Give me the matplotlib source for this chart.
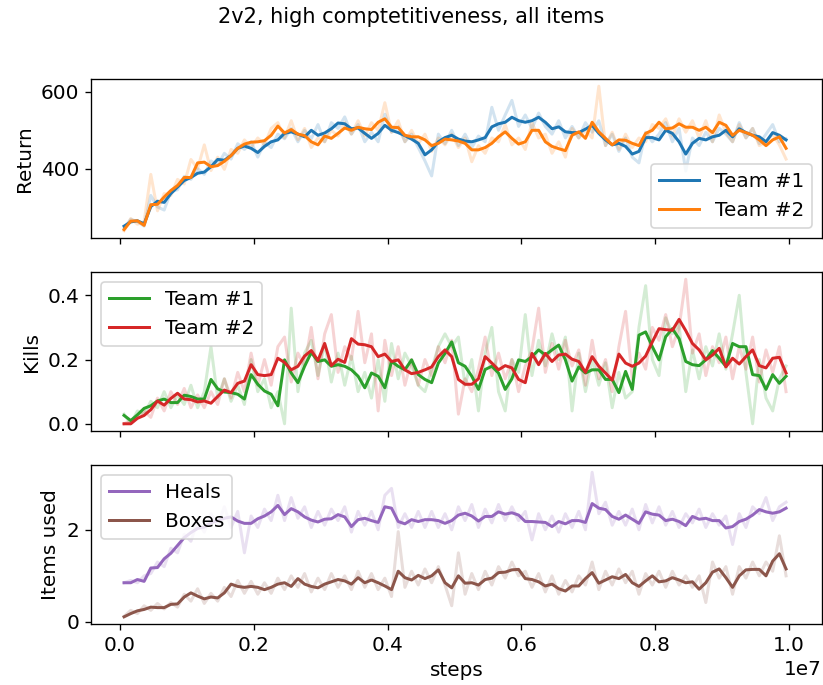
import matplotlib
matplotlib.use("Agg")
import matplotlib.pyplot as plt
import numpy as np

plt.rcParams['font.size'] = 12
plt.rcParams['lines.linewidth'] = 1.8

# training steps (one point every 1e5 steps)
steps = np.arange(0.06e6, 1.0e7, 1e5)

# Return: smoothed and raw curves
ret_team1 = [250, 261, 264, 256, 301, 315, 312, 335, 352, 369,
             377, 388, 391, 405, 424, 422, 434, 453, 459, 453,
             442, 458, 470, 475, 492, 496, 490, 483, 500, 487,
             493, 504, 519, 517, 504, 506, 492, 479, 492, 513,
             500, 494, 486, 477, 466, 436, 449, 470, 481, 487,
             477, 472, 470, 475, 481, 509, 517, 521, 534, 525,
             521, 525, 534, 521, 504, 509, 496, 494, 494, 503,
             513, 492, 475, 462, 466, 458, 438, 445, 481, 481,
             475, 500, 492, 470, 438, 466, 479, 475, 483, 487,
             500, 483, 504, 494, 487, 483, 470, 494, 487, 475]
ret_team2 = [241, 263, 264, 252, 306, 307, 326, 343, 356, 377,
             377, 415, 417, 405, 408, 419, 434, 453, 464, 469,
             470, 473, 487, 511, 493, 502, 490, 486, 470, 462,
             485, 479, 492, 506, 500, 508, 504, 502, 521, 530,
             508, 507, 487, 483, 483, 475, 460, 466, 477, 475,
             472, 466, 449, 449, 455, 466, 483, 496, 479, 464,
             470, 500, 500, 470, 458, 452, 447, 487, 496, 479,
             521, 496, 479, 462, 475, 474, 466, 460, 492, 500,
             521, 504, 506, 517, 508, 508, 500, 508, 494, 521,
             513, 487, 500, 494, 487, 475, 460, 475, 483, 453]
ret_team1_raw = [245, 268, 262, 250, 330, 300, 292, 340, 345, 380,
                 372, 400, 385, 420, 410, 440, 425, 465, 450, 470,
                 430, 468, 455, 490, 478, 505, 470, 500, 478, 515,
                 470, 520, 505, 535, 490, 515, 470, 495, 470, 542,
                 495, 510, 470, 490, 455, 420, 381, 490, 465, 500,
                 460, 490, 455, 485, 470, 560, 500, 540, 578, 510,
                 540, 505, 545, 510, 490, 525, 480, 510, 480, 520,
                 495, 525, 460, 490, 445, 480, 430, 415, 495, 470,
                 490, 520, 470, 505, 394, 480, 460, 495, 470, 505,
                 490, 470, 520, 480, 505, 465, 490, 515, 470, 478]
ret_team2_raw = [238, 270, 255, 262, 385, 290, 335, 330, 372, 360,
                 424, 400, 462, 395, 430, 398, 450, 440, 475, 455,
                 480, 462, 505, 520, 480, 525, 475, 505, 455, 480,
                 470, 500, 485, 520, 490, 525, 485, 520, 500, 572,
                 495, 525, 470, 500, 465, 490, 445, 480, 462, 490,
                 455, 480, 418, 460, 440, 480, 470, 515, 462, 480,
                 450, 520, 480, 490, 440, 470, 430, 505, 480, 500,
                 480, 615, 460, 495, 450, 490, 455, 480, 470, 515,
                 505, 530, 485, 530, 495, 525, 480, 525, 470, 540,
                 495, 470, 515, 480, 505, 460, 470, 490, 462, 425]

# Kills
kills_team1 = [.026, .010, .028, .048, .056, .071, .077, .066, .066, .089,
               .085, .077, .077, .138, .109, .099, .097, .092, .077, .153,
               .123, .102, .092, .056, .199, .158, .128, .179, .222, .194,
               .199, .179, .184, .179, .168, .148, .112, .158, .148, .112,
               .194, .179, .168, .199, .153, .138, .128, .189, .219, .255,
               .190, .179, .148, .107, .169, .179, .158, .107, .140, .199,
               .194, .209, .230, .214, .230, .245, .199, .133, .177, .158,
               .168, .168, .138, .138, .097, .163, .107, .276, .286, .240,
               .199, .271, .296, .265, .194, .184, .181, .199, .228, .204,
               .179, .250, .240, .240, .153, .150, .107, .153, .126, .148]
kills_team2 = [0, 0, .017, .026, .044, .071, .058, .079, .095, .077,
               .075, .068, .071, .064, .085, .105, .097, .126, .133, .184,
               .153, .150, .153, .204, .191, .168, .179, .211, .228, .197,
               .250, .181, .201, .191, .265, .248, .246, .240, .209, .217,
               .194, .199, .168, .156, .160, .168, .177, .209, .230, .209,
               .138, .123, .123, .140, .209, .189, .168, .181, .174, .138,
               .128, .219, .184, .219, .194, .214, .217, .201, .194, .160,
               .209, .179, .158, .136, .217, .189, .179, .189, .211, .255,
               .296, .293, .291, .325, .290, .250, .230, .199, .214, .235,
               .177, .204, .186, .209, .230, .181, .174, .204, .207, .158]
kills_team1_raw = [.03, .0, .04, .03, .07, .05, .10, .05, .09, .06,
                   .12, .05, .10, .24, .08, .14, .07, .12, .06, .20,
                   .10, .14, .05, .10, .0, .36, .10, .22, .26, .15,
                   .25, .13, .22, .12, .21, .10, .16, .08, .20, .07,
                   .25, .14, .22, .18, .12, .10, .17, .24, .28, .24,
                   .27, .12, .20, .04, .22, .30, .10, .04, .20, .16,
                   .34, .15, .26, .18, .28, .20, .27, .04, .22, .10,
                   .20, .12, .19, .05, .16, .08, .10, .30, .43, .20,
                   .15, .33, .28, .31, .10, .23, .14, .24, .18, .28,
                   .17, .28, .40, .16, .0, .20, .08, .04, .14, .18]
kills_team2_raw = [0, .01, .02, .04, .02, .08, .04, .10, .06, .11,
                   .05, .09, .05, .10, .06, .14, .08, .16, .10, .22,
                   .12, .20, .12, .24, .27, .13, .22, .18, .30, .14,
                   .28, .34, .16, .24, .20, .35, .19, .28, .04, .26,
                   .15, .24, .12, .20, .12, .20, .15, .24, .19, .26,
                   .03, .14, .10, .17, .27, .15, .22, .14, .20, .10,
                   .18, .23, .36, .16, .25, .17, .26, .18, .23, .12,
                   .26, .14, .20, .10, .24, .35, .14, .22, .17, .30,
                   .26, .34, .24, .30, .45, .22, .28, .15, .24, .19,
                   .27, .14, .24, .17, .27, .13, .23, .16, .24, .10]

# Items used
heals = [.85, .85, .92, .88, 1.17, 1.18, 1.37, 1.49, 1.66, 1.83,
         1.94, 2.03, 2.06, 2.15, 2.20, 2.25, 2.28, 2.19, 2.14, 2.14,
         2.24, 2.30, 2.39, 2.53, 2.33, 2.46, 2.39, 2.28, 2.21, 2.17,
         2.23, 2.24, 2.33, 2.28, 2.07, 2.22, 2.25, 2.20, 2.16, 2.50,
         2.47, 2.18, 2.13, 2.22, 2.18, 2.22, 2.22, 2.20, 2.14, 2.20,
         2.32, 2.36, 2.30, 2.19, 2.29, 2.29, 2.39, 2.34, 2.37, 2.32,
         2.18, 2.18, 2.17, 2.16, 2.07, 2.18, 2.13, 2.20, 2.20, 2.16,
         2.57, 2.47, 2.44, 2.29, 2.23, 2.32, 2.23, 2.14, 2.39, 2.34,
         2.32, 2.20, 2.23, 2.18, 2.09, 2.29, 2.23, 2.25, 2.20, 2.20,
         2.04, 2.07, 2.18, 2.23, 2.32, 2.44, 2.39, 2.36, 2.39, 2.47]
boxes = [.11, .18, .24, .27, .32, .31, .31, .38, .39, .54,
         .63, .56, .50, .54, .52, .63, .82, .77, .75, .77,
         .75, .70, .75, .82, .85, .77, .94, .82, .77, .74,
         .82, .87, .92, .89, .82, .96, .85, .91, .85, .78,
         .70, 1.10, .96, .91, 1.01, .94, 1.00, 1.13, .85, .74,
         1.00, .84, .85, .80, .92, .95, 1.07, 1.08, 1.13, 1.14,
         .94, .92, .87, .78, .82, .72, .67, .78, .78, .94,
         1.07, .84, .91, .98, .94, 1.03, .85, .77, .89, 1.00,
         .87, .89, .96, .91, .85, .87, .71, .85, 1.08, 1.15,
         .96, .75, 1.00, 1.13, 1.14, 1.14, 1.00, 1.32, 1.48, 1.15]
heals_raw = [.85, .90, .85, 1.00, 1.05, 1.30, 1.20, 1.60, 1.50, 1.90,
             1.75, 2.20, 1.95, 2.35, 2.10, 2.50, 2.05, 2.40, 1.50, 2.30,
             2.05, 2.45, 2.20, 2.75, 2.20, 2.70, 2.25, 2.50, 2.05, 2.40,
             2.10, 2.45, 2.20, 2.50, 1.95, 2.40, 2.10, 2.40, 2.00, 2.75,
             2.90, 2.05, 2.35, 2.05, 2.40, 2.05, 2.40, 2.05, 2.35, 2.00,
             2.50, 2.20, 2.55, 2.05, 2.45, 2.15, 2.55, 2.20, 2.50, 2.20,
             2.40, 1.78, 2.35, 2.00, 2.30, 1.95, 2.35, 2.05, 2.40, 2.00,
             3.25, 2.35, 2.60, 2.10, 2.40, 2.10, 2.45, 2.00, 2.55, 2.15,
             2.50, 2.10, 2.40, 2.05, 2.35, 2.15, 2.45, 2.05, 2.35, 2.10,
             2.30, 1.68, 2.35, 2.05, 2.50, 2.35, 2.70, 2.20, 2.50, 2.60]
boxes_raw = [.12, .25, .18, .35, .25, .40, .28, .42, .32, .60,
             .45, .72, .40, .62, .45, .75, .55, .90, .62, .88,
             .60, .85, .62, .95, .70, 1.00, .75, 1.05, .65, .95,
             .70, 1.05, .75, 1.00, .70, 1.10, .75, 1.05, .70, .95,
             .55, 1.96, .75, 1.10, .80, 1.15, .85, 1.20, .80, .35,
             1.50, .60, 1.05, .70, 1.10, .80, 1.20, .95, 1.30, 1.00,
             1.10, .75, 1.05, .65, 1.00, .60, .90, .65, 1.00, .80,
             1.30, .70, 1.10, .80, 1.15, .85, 1.10, .60, 1.05, .80,
             1.10, .75, 1.10, .80, 1.00, .75, 1.00, .42, 1.30, .95,
             1.20, .60, 1.20, .95, 1.30, 1.00, 1.30, 1.10, 1.87, 1.00]

fig, axes = plt.subplots(3, 1, sharex=True, figsize=(823 / 120, 685 / 120), dpi=120)
fig.subplots_adjust(left=0.1106, right=0.9985, top=0.8847, bottom=0.089, hspace=0.214)
fig.suptitle("2v2, high comptetitiveness, all items", y=0.99, fontsize=12.5)

panels = [
    (axes[0], "Return", [(ret_team1, ret_team1_raw, "tab:blue", "Team #1"),
                         (ret_team2, ret_team2_raw, "tab:orange", "Team #2")], "lower right"),
    (axes[1], "Kills", [(kills_team1, kills_team1_raw, "tab:green", "Team #1"),
                        (kills_team2, kills_team2_raw, "tab:red", "Team #2")], "upper left"),
    (axes[2], "Items used", [(heals, heals_raw, "tab:purple", "Heals"),
                             (boxes, boxes_raw, "tab:brown", "Boxes")], "upper left"),
]

for ax, ylabel, series, loc in panels:
    for smooth, raw, color, label in series:
        ax.plot(steps, raw, color=color, alpha=0.2)
    handles = []
    for smooth, raw, color, label in series:
        h, = ax.plot(steps, smooth, color=color, label=label)
        handles.append(h)
    ax.set_ylabel(ylabel)
    ax.legend(handles=handles, loc=loc)

axes[0].set_yticks([400, 600])
axes[1].set_yticks([0.0, 0.2, 0.4])
axes[2].set_yticks([0, 2])
axes[2].set_xlim(-0.434e6, 1.0494e7)
axes[2].set_xlabel("steps")

fig.savefig("out.png", dpi=120)
